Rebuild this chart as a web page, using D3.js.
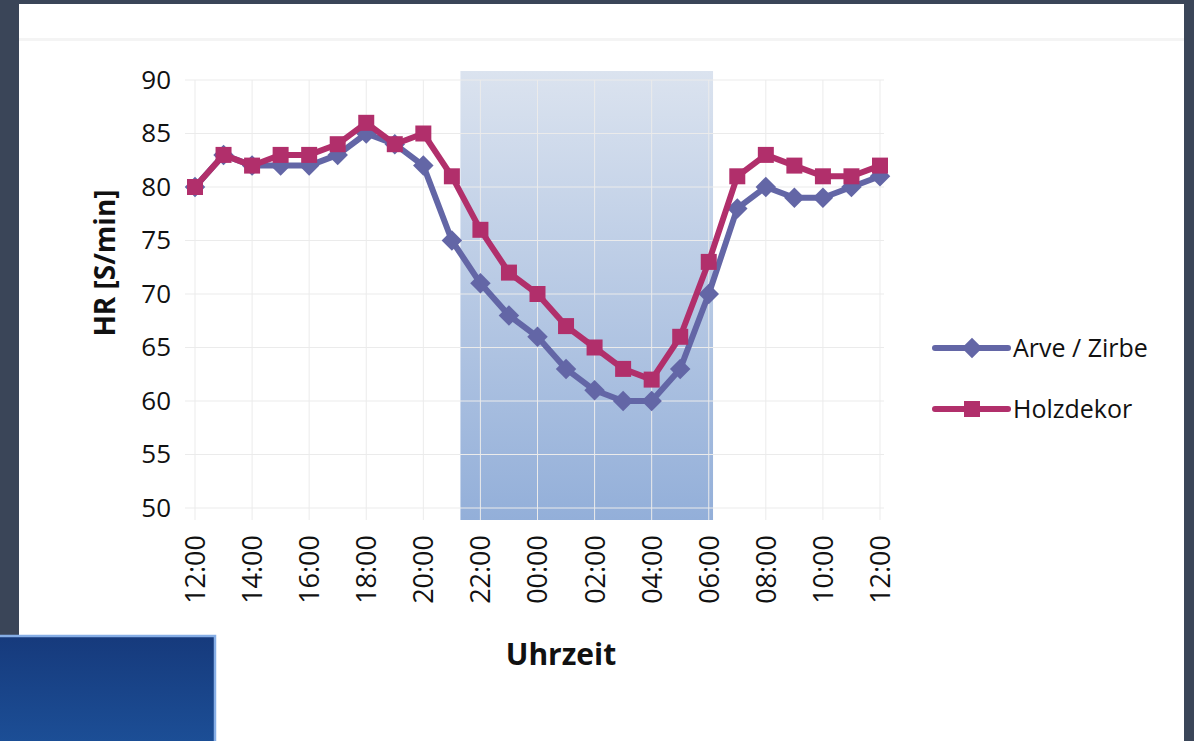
<!DOCTYPE html>
<html>
<head>
<meta charset="utf-8">
<script src="https://d3js.org/d3.v7.min.js"></script>
<style>
  html, body { margin: 0; padding: 0; background: #3a4558; }
  svg { display: block; }
</style>
</head>
<body>
<script>
// hours from the first 12:00 (0 .. 24)
var hours = d3.range(0, 25);
var tickHours = [0, 2, 4, 6, 8, 10, 12, 14, 16, 18, 20, 22, 24];
var tickLabels = ["12:00", "14:00", "16:00", "18:00", "20:00", "22:00", "00:00",
                  "02:00", "04:00", "06:00", "08:00", "10:00", "12:00"];
var yTicks = [50, 55, 60, 65, 70, 75, 80, 85, 90];

var arve = [80, 83, 82, 82, 82, 83, 85, 84, 82, 75, 71, 68, 66, 63, 61, 60, 60, 63, 70, 78, 80, 79, 79, 80, 81];
var holz = [80, 83, 82, 83, 83, 84, 86, 84, 85, 81, 76, 72, 70, 67, 65, 63, 62, 66, 73, 81, 83, 82, 81, 81, 82];

// night band (hour offsets)
var night = [9.3, 18.15];

var width = 1194, height = 741;

var svg = d3.select("body").append("svg")
    .attr("width", width)
    .attr("height", height);

var defs = svg.append("defs");
var g1 = defs.append("linearGradient").attr("id", "nightGrad")
    .attr("x1", 0).attr("y1", 0).attr("x2", 0).attr("y2", 1);
g1.append("stop").attr("offset", "0%").attr("stop-color", "#dbe3ef");
g1.append("stop").attr("offset", "100%").attr("stop-color", "#93afd9");

var g2 = defs.append("linearGradient").attr("id", "boxGrad")
    .attr("x1", 0).attr("y1", 0).attr("x2", 0).attr("y2", 1);
g2.append("stop").attr("offset", "0%").attr("stop-color", "#163a7c");
g2.append("stop").attr("offset", "100%").attr("stop-color", "#1c4f97");

// white slide panel
svg.append("rect").attr("x", 19).attr("y", 4).attr("width", 1165).attr("height", 737).attr("fill", "#ffffff");
svg.append("rect").attr("x", 19).attr("y", 38).attr("width", 1165).attr("height", 3).attr("fill", "#f4f4f4");

var xScale = d3.scaleLinear([0, 24], [195, 880]);
var yScale = d3.scaleLinear([50, 90], [508, 80]);

// shaded night area
svg.append("rect")
    .attr("x", xScale(night[0]))
    .attr("y", 71)
    .attr("width", xScale(night[1]) - xScale(night[0]))
    .attr("height", 520 - 71)
    .attr("fill", "url(#nightGrad)");

// grid
var grid = svg.append("g").attr("stroke", "#ebebeb").attr("stroke-width", 1);
grid.selectAll("line.h")
    .data(yTicks)
    .join("line")
    .attr("class", "h")
    .attr("x1", 185).attr("x2", 884)
    .attr("y1", d => yScale(d)).attr("y2", d => yScale(d));
grid.selectAll("line.v")
    .data(tickHours)
    .join("line")
    .attr("class", "v")
    .attr("x1", d => xScale(d)).attr("x2", d => xScale(d))
    .attr("y1", yScale(90)).attr("y2", 520);

// axes (labels only)
var yAxis = d3.axisLeft(yScale).tickValues(yTicks).tickSize(0).tickPadding(0);
svg.append("g")
    .attr("transform", "translate(171,0)")
    .call(yAxis)
    .call(g => g.select(".domain").remove())
    .selectAll("text")
    .attr("font-family", "Open Sans")
    .attr("font-size", 26)
    .attr("fill", "#111");

var xAxis = d3.axisBottom(xScale).tickValues(tickHours).tickFormat((d, i) => tickLabels[i]).tickSize(0);
svg.append("g")
    .attr("transform", "translate(0,535)")
    .call(xAxis)
    .call(g => g.select(".domain").remove())
    .selectAll("text")
    .attr("font-family", "Open Sans")
    .attr("font-size", 27)
    .attr("fill", "#111")
    .attr("transform", "rotate(-90)")
    .attr("text-anchor", "end")
    .attr("x", 0)
    .attr("y", 0)
    .attr("dy", "0.35em");

// axis titles
svg.append("text")
    .attr("transform", "translate(115,263) rotate(-90)")
    .attr("text-anchor", "middle")
    .attr("font-family", "Open Sans")
    .attr("font-weight", "bold")
    .attr("font-size", 28)
    .attr("fill", "#111")
    .text("HR [S/min]");

svg.append("text")
    .attr("x", 561).attr("y", 665)
    .attr("text-anchor", "middle")
    .attr("font-family", "Open Sans")
    .attr("font-weight", "bold")
    .attr("font-size", 30)
    .attr("fill", "#111")
    .text("Uhrzeit");

// series
var series = [
    {name: "Arve / Zirbe", values: arve, color: "#6366a6", symbol: d3.symbolSquare, size: 210, rot: 45},
    {name: "Holzdekor", values: holz, color: "#b12f6b", symbol: d3.symbolSquare, size: 256, rot: 0}
];

var line = d3.line().x((d, i) => xScale(hours[i])).y(d => yScale(d));

series.forEach(s => {
    svg.append("path")
        .attr("d", line(s.values))
        .attr("fill", "none")
        .attr("stroke", s.color)
        .attr("stroke-width", 6)
        .attr("stroke-linejoin", "round");
    svg.append("g").selectAll("path")
        .data(s.values)
        .join("path")
        .attr("d", d3.symbol(s.symbol, s.size))
        .attr("transform", (d, i) => `translate(${xScale(hours[i])},${yScale(d)}) rotate(${s.rot})`)
        .attr("fill", s.color);
});

// legend
var legend = svg.append("g").selectAll("g")
    .data(series)
    .join("g")
    .attr("transform", (d, i) => `translate(935,${348 + i * 61})`);
legend.append("line")
    .attr("x1", 0).attr("x2", 73)
    .attr("stroke", d => d.color)
    .attr("stroke-width", 6)
    .attr("stroke-linecap", "round");
legend.append("path")
    .attr("d", d => d3.symbol(d.symbol, d.size)())
    .attr("transform", d => `translate(37,0) rotate(${d.rot})`)
    .attr("fill", d => d.color);
legend.append("text")
    .attr("x", 78)
    .attr("dy", "0.35em")
    .attr("font-family", "Open Sans")
    .attr("font-size", 25)
    .attr("fill", "#111")
    .text(d => d.name);

// blue box at bottom left
svg.append("rect")
    .attr("x", -2).attr("y", 636)
    .attr("width", 217).attr("height", 110)
    .attr("fill", "url(#boxGrad)")
    .attr("stroke", "#86aee6")
    .attr("stroke-width", 2.5);
</script>
</body>
</html>
